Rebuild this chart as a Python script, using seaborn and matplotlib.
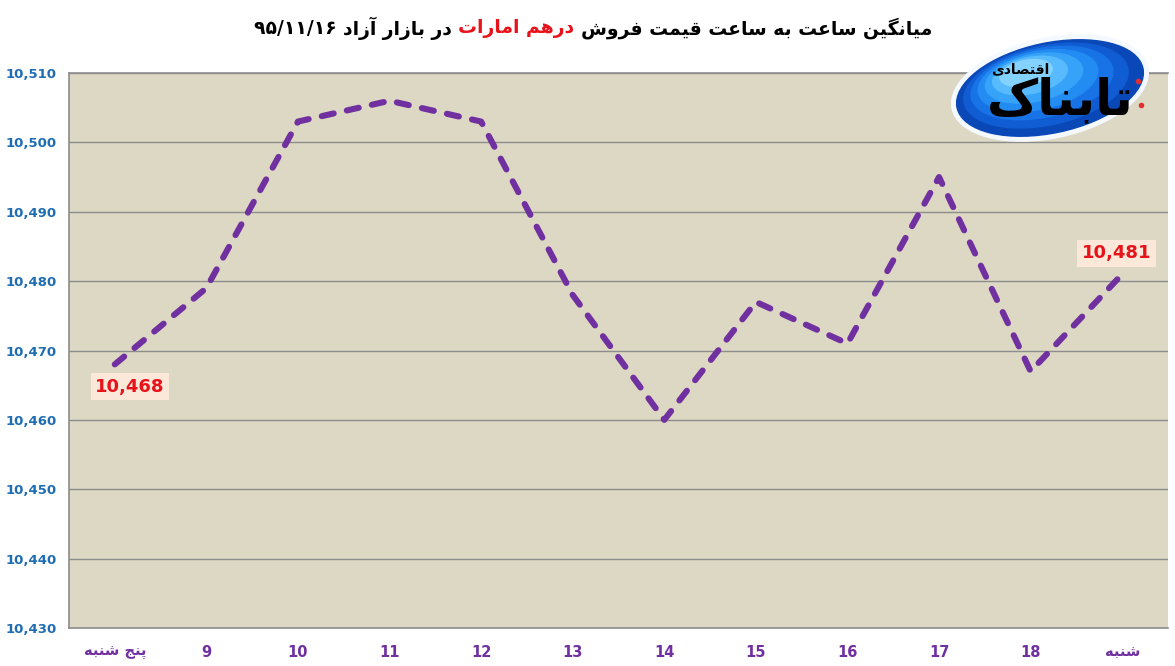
import matplotlib
matplotlib.use('Agg')
import matplotlib.pyplot as plt
import matplotlib.ticker as mticker
from matplotlib.patches import Ellipse
import seaborn as sns
import pandas as pd

# chart data
days = ['پنج شنبه', '9', '10', '11', '12', '13', '14', '15', '16', '17', '18', 'شنبه']
prices = [10468, 10479, 10503, 10506, 10503, 10478, 10460, 10477, 10471, 10495, 10467, 10481]
y_ticks = [10430, 10440, 10450, 10460, 10470, 10480, 10490, 10500, 10510]
labelled = {0: '10,468', 11: '10,481'}

title_date = '۹۵/۱۱/۱۶'
title_a = 'در بازار آزاد'
title_red = 'درهم امارات'
title_b = 'میانگین ساعت به ساعت قیمت فروش'
logo_big = 'تابناک'
logo_small = 'اقتصادی'

# matplotlib has no arabic shaping, so pick presentation forms by hand
FORMS = {
    'ا': ('\uFE8D', '\uFE8E', None, None),
    'آ': ('\uFE81', '\uFE82', None, None),
    'ب': ('\uFE8F', '\uFE90', '\uFE91', '\uFE92'),
    'پ': ('\uFB56', '\uFB57', '\uFB58', '\uFB59'),
    'ت': ('\uFE95', '\uFE96', '\uFE97', '\uFE98'),
    'ج': ('\uFE9D', '\uFE9E', '\uFE9F', '\uFEA0'),
    'د': ('\uFEA9', '\uFEAA', None, None),
    'ر': ('\uFEAD', '\uFEAE', None, None),
    'ز': ('\uFEAF', '\uFEB0', None, None),
    'س': ('\uFEB1', '\uFEB2', '\uFEB3', '\uFEB4'),
    'ش': ('\uFEB5', '\uFEB6', '\uFEB7', '\uFEB8'),
    'ص': ('\uFEB9', '\uFEBA', '\uFEBB', '\uFEBC'),
    'ع': ('\uFEC9', '\uFECA', '\uFECB', '\uFECC'),
    'ف': ('\uFED1', '\uFED2', '\uFED3', '\uFED4'),
    'ق': ('\uFED5', '\uFED6', '\uFED7', '\uFED8'),
    'ک': ('\uFB8E', '\uFB8F', '\uFB90', '\uFB91'),
    'ك': ('\uFB8E', '\uFB8F', '\uFB90', '\uFB91'),
    'گ': ('\uFB92', '\uFB93', '\uFB94', '\uFB95'),
    'ل': ('\uFEDD', '\uFEDE', '\uFEDF', '\uFEE0'),
    'م': ('\uFEE1', '\uFEE2', '\uFEE3', '\uFEE4'),
    'ن': ('\uFEE5', '\uFEE6', '\uFEE7', '\uFEE8'),
    'ه': ('\uFEE9', '\uFEEA', '\uFEEB', '\uFEEC'),
    'و': ('\uFEED', '\uFEEE', None, None),
    'ی': ('\uFBFC', '\uFBFD', '\uFBFE', '\uFBFF'),
    'ي': ('\uFBFC', '\uFBFD', '\uFBFE', '\uFBFF'),
}


def shape(s):
    if not any(c in FORMS for c in s):
        return s
    out = []
    for i, c in enumerate(s):
        f = FORMS.get(c)
        if f is None:
            out.append(c)
            continue
        prev = s[i - 1] if i > 0 else None
        nxt = s[i + 1] if i + 1 < len(s) else None
        jp = prev in FORMS and FORMS[prev][2] is not None
        jn = nxt in FORMS and f[2] is not None
        if jp and jn:
            out.append(f[3])
        elif jp:
            out.append(f[1])
        elif jn:
            out.append(f[2])
        else:
            out.append(f[0])
    return ''.join(out)[::-1]


sns.set_theme(style='white')
plt.rcParams['font.family'] = ['DejaVu Sans']

fig = plt.figure(figsize=(11.75, 6.66), dpi=100)
ax = fig.add_axes([69 / 1175, 1 - 628 / 666, 1099 / 1175, 555 / 666])
ax.set_facecolor('#DDD8C3')

df = pd.DataFrame({'pos': range(len(days)), 'price': prices})
sns.lineplot(data=df, x='pos', y='price', ax=ax, color='#7030A0', lw=4.4,
             dashes=False, zorder=3)
line = ax.lines[0]
line.set_dashes((2.0, 2.2))
line.set_dash_capstyle('round')

ax.set_xlim(-0.5, len(days) - 0.5)
ax.set_ylim(y_ticks[0], y_ticks[-1])
ax.set_yticks(y_ticks)
ax.yaxis.set_major_formatter(mticker.StrMethodFormatter('{x:,.0f}'))
ax.set_xticks(df['pos'])
ax.set_xticklabels([shape(d) for d in days])
ax.set_xlabel('')
ax.set_ylabel('')
ax.tick_params(axis='y', length=0, pad=9, labelsize=9.5, labelcolor='#1F6DB3')
ax.tick_params(axis='x', length=0, pad=12, labelsize=10.5, labelcolor='#7030A0')
for t in ax.get_yticklabels() + ax.get_xticklabels():
    t.set_fontweight('bold')
ax.grid(axis='y', color='#8C8C8C', lw=1)
ax.grid(axis='x', visible=False)
for side in ['left', 'bottom', 'top']:
    ax.spines[side].set_color('#8C8C8C')
    ax.spines[side].set_linewidth(1.2)
ax.spines['right'].set_visible(False)

offsets = {0: (11, -16), 11: (-4, 15)}
for i, txt in labelled.items():
    ax.annotate(txt, xy=(i, prices[i]), xytext=offsets[i], textcoords='offset points',
                ha='center', va='center', fontsize=13, fontweight='bold', color='#E8121B',
                bbox=dict(boxstyle='square,pad=0.25', fc='#FBE8D8', ec='none'), zorder=5)

# title in pieces so the middle part can be red
pieces = [(title_date + ' ', 'black'), (shape(title_a) + ' ', 'black'),
          (shape(title_red) + ' ', '#E8121B'), (shape(title_b), 'black')]
texts = [fig.text(0, 0, p, color=c, fontsize=13.5, fontweight='bold', va='center')
         for p, c in pieces]
renderer = fig.canvas.get_renderer()
widths = [t.get_window_extent(renderer).width for t in texts]
x = 593 - sum(widths) / 2
for t, w in zip(texts, widths):
    t.set_position((x / 1175, 1 - 28 / 666))
    x += w

# logo, drawn in pixel units of its own little axes
lax = fig.add_axes([940 / 1175, 1 - 145 / 666, 235 / 1175, 115 / 666])
lax.set_xlim(0, 235)
lax.set_ylim(0, 115)
lax.axis('off')
lax.add_patch(Ellipse((110, 57), 200, 100, angle=12, color='#F4F8FF', zorder=0))
blues = ['#0A48B8', '#105CD2', '#1874E6', '#228CF2', '#36A2F8', '#58BBFD', '#84D2FF']
for k, c in enumerate(blues):
    s = 1.0 - k * 0.12
    lax.add_patch(Ellipse((110 - k * 4, 57 + k * 2.5), 190 * s, 90 * s,
                          angle=12, color=c, zorder=k + 1))
lax.text(120, 45, shape(logo_big), fontsize=36, fontweight='bold', color='black',
         ha='center', va='center', zorder=20)
lax.text(80, 76, shape(logo_small), fontsize=10, fontweight='bold', color='black',
         ha='center', va='center', zorder=20)
lax.plot([198, 201], [64, 40], 'o', color='#E03030', ms=3, zorder=21)

fig.savefig('out.png', dpi=100)
